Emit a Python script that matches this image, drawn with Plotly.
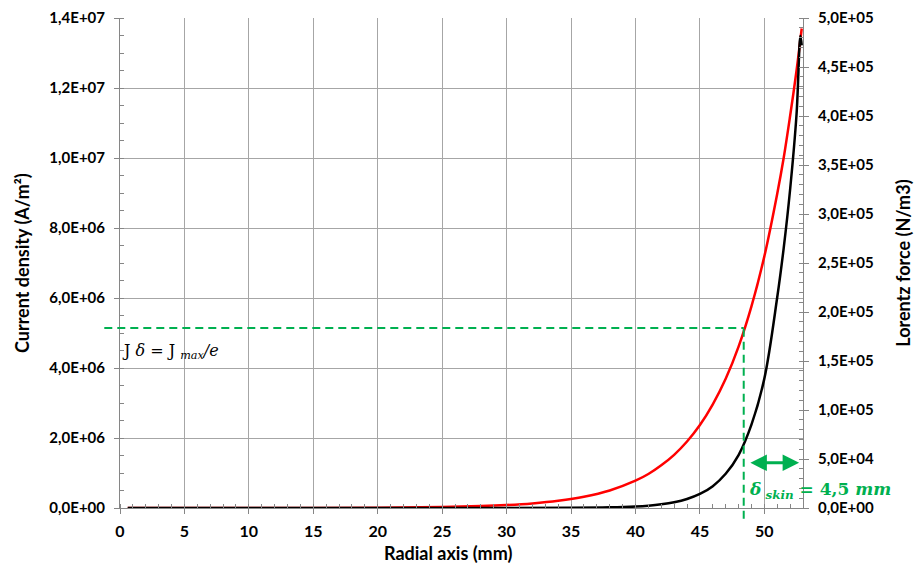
import plotly.graph_objects as go

# ---- data ----
radius_mm = [0.6, 5, 10, 15, 20, 25, 28, 30, 32, 34, 36, 38, 40, 41, 42, 43, 44,
             45, 46, 47, 48, 49, 50, 51, 51.5, 52, 52.5, 52.9]
current_density = [0, 0, 5e2, 2e3, 9.2e3, 2.8e4, 5.4e4, 8.4e4, 1.32e5, 2.06e5, 3.2e5,
                   5.0e5, 7.8e5, 9.7e5, 1.22e6, 1.52e6, 1.90e6, 2.37e6, 2.96e6, 3.69e6,
                   4.61e6, 5.76e6, 7.19e6, 8.98e6, 1.00e7, 1.12e7, 1.25e7, 1.37e7]
radius_force = [0.6, 10, 20, 30, 35, 38, 40, 41, 42, 43, 44, 45, 46, 47, 48, 49, 50,
                51, 51.5, 52, 52.5, 52.8, 52.9]
lorentz_force = [0, 0, 2, 18, 168, 640, 1.54e3, 2.4e3, 3.8e3, 5.9e3, 9.2e3, 1.43e4,
                 2.23e4, 3.49e4, 5.4e4, 8.5e4, 1.32e5, 2.15e5, 2.65e5, 3.25e5, 4.02e5,
                 4.82e5, 4.72e5]

x_range = [0, 53]
y1_max = 1.4e7
y2_max = 5.0e5
x_ticks = [0, 5, 10, 15, 20, 25, 30, 35, 40, 45, 50]
y1_ticks = [0, 2e6, 4e6, 6e6, 8e6, 1.0e7, 1.2e7, 1.4e7]
y1_labels = ["0,0E+00", "2,0E+06", "4,0E+06", "6,0E+06", "8,0E+06", "1,0E+07", "1,2E+07", "1,4E+07"]
y2_ticks = [0, 5e4, 1e5, 1.5e5, 2e5, 2.5e5, 3e5, 3.5e5, 4e5, 4.5e5, 5e5]
y2_labels = ["0,0E+00", "5,0E+04", "1,0E+05", "1,5E+05", "2,0E+05", "2,5E+05",
             "3,0E+05", "3,5E+05", "4,0E+05", "4,5E+05", "5,0E+05"]

x_delta = 48.4          # r where J = Jmax/e
j_delta = 5.14e6        # Jmax/e
arrow_x = [48.8, 52.7]
arrow_j = 1.29e6

GREEN = "#00B050"
GRID = "#A6A6A6"
AXIS = "#868686"
FONT = "Lato"

fig = go.Figure()
fig.add_trace(go.Scatter(x=radius_mm, y=current_density, mode="lines",
                         line=dict(color="#FF0000", width=2.5, shape="spline"),
                         name="J", yaxis="y"))
fig.add_trace(go.Scatter(x=radius_force, y=lorentz_force, mode="lines",
                         line=dict(color="#000000", width=2.5, shape="spline"),
                         name="F", yaxis="y2"))

tickfont = dict(family=FONT, size=15, color="#000000", weight=700)

fig.update_layout(
    template="none",
    width=914, height=565,
    margin=dict(l=120, r=111, t=18, b=57, autoexpand=False),
    paper_bgcolor="white", plot_bgcolor="white",
    showlegend=False,
    xaxis=dict(range=x_range, tickvals=x_ticks, automargin=False,
               showgrid=True, gridcolor=GRID, gridwidth=1, zeroline=False,
               showline=True, linecolor=AXIS, linewidth=1,
               ticks="outside", ticklen=5, tickcolor=AXIS,
               minor=dict(dtick=1, ticks="inside", ticklen=4, tickcolor=AXIS, showgrid=False),
               tickfont=dict(family=FONT, size=16, color="#000000", weight=700),
               ticklabelstandoff=4),
    yaxis=dict(range=[0, y1_max], tickvals=y1_ticks, ticktext=y1_labels, automargin=False,
               showgrid=True, gridcolor=GRID, gridwidth=1, zeroline=False,
               showline=True, linecolor=AXIS, linewidth=1,
               ticks="outside", ticklen=5, tickcolor=AXIS,
               minor=dict(dtick=5e5, ticks="inside", ticklen=4, tickcolor=AXIS, showgrid=False),
               tickfont=tickfont, ticklabelstandoff=6),
    yaxis2=dict(range=[0, y2_max], tickvals=y2_ticks, ticktext=y2_labels, automargin=False,
                overlaying="y", side="right", anchor="x",
                showgrid=False, zeroline=False,
                showline=True, linecolor=AXIS, linewidth=1,
                ticks="outside", ticklen=5, tickcolor=AXIS,
                minor=dict(dtick=1e4, ticks="inside", ticklen=4, tickcolor=AXIS),
                tickfont=tickfont, ticklabelstandoff=6),
)

# green dashed guide lines
fig.add_shape(type="line", xref="x domain", yref="y",
              x0=-0.023, x1=x_delta / x_range[1], y0=j_delta, y1=j_delta,
              line=dict(color=GREEN, width=2, dash="8px,5px"), layer="above")
fig.add_shape(type="line", xref="x", yref="y domain",
              x0=x_delta, x1=x_delta, y0=-0.022, y1=j_delta / y1_max,
              line=dict(color=GREEN, width=2, dash="8px,5px"), layer="above")

# skin-depth arrow
fig.add_annotation(x=arrow_x[1], y=arrow_j, ax=arrow_x[0], ay=arrow_j,
                   xref="x", yref="y", axref="x", ayref="y",
                   text="", showarrow=True, arrowhead=2, startarrowhead=2,
                   arrowside="end+start", arrowwidth=3, arrowsize=1.1,
                   startarrowsize=1.1, arrowcolor=GREEN)

fig.add_annotation(x=arrow_x[0] - 0.15, y=arrow_j, xref="x", yref="y",
                   text="<i>δ<sub> skin</sub></i> = 4,5 <i>mm</i>", showarrow=False,
                   xanchor="left", yanchor="top", yshift=-14,
                   font=dict(family="DejaVu Serif", size=17, color=GREEN, weight=700))

fig.add_annotation(x=0.0, y=j_delta, xref="x", yref="y",
                   text="J <i>δ</i> = J <i><sub>max</sub>/e</i>", showarrow=False,
                   xanchor="left", yanchor="top", yshift=-11,
                   font=dict(family="DejaVu Serif", size=16, color="#000000"))

# axis titles
titlefont = dict(family=FONT, size=18, color="#000000", weight=700)
fig.add_annotation(xref="paper", yref="paper", x=-0.1435, y=0.5, text="Current density (A/m²)",
                   textangle=-90, showarrow=False, font=titlefont,
                   xanchor="center", yanchor="middle")
fig.add_annotation(xref="paper", yref="paper", x=1.146, y=0.5, text="Lorentz force (N/m3)",
                   textangle=-90, showarrow=False, font=titlefont,
                   xanchor="center", yanchor="middle")
fig.add_annotation(xref="paper", yref="paper", x=0.48, y=-0.092, text="Radial axis (mm)",
                   showarrow=False, font=titlefont, xanchor="center", yanchor="middle")

fig.write_html("out.html", config={"displayModeBar": False},
               post_script="document.body.style.margin='0';")
